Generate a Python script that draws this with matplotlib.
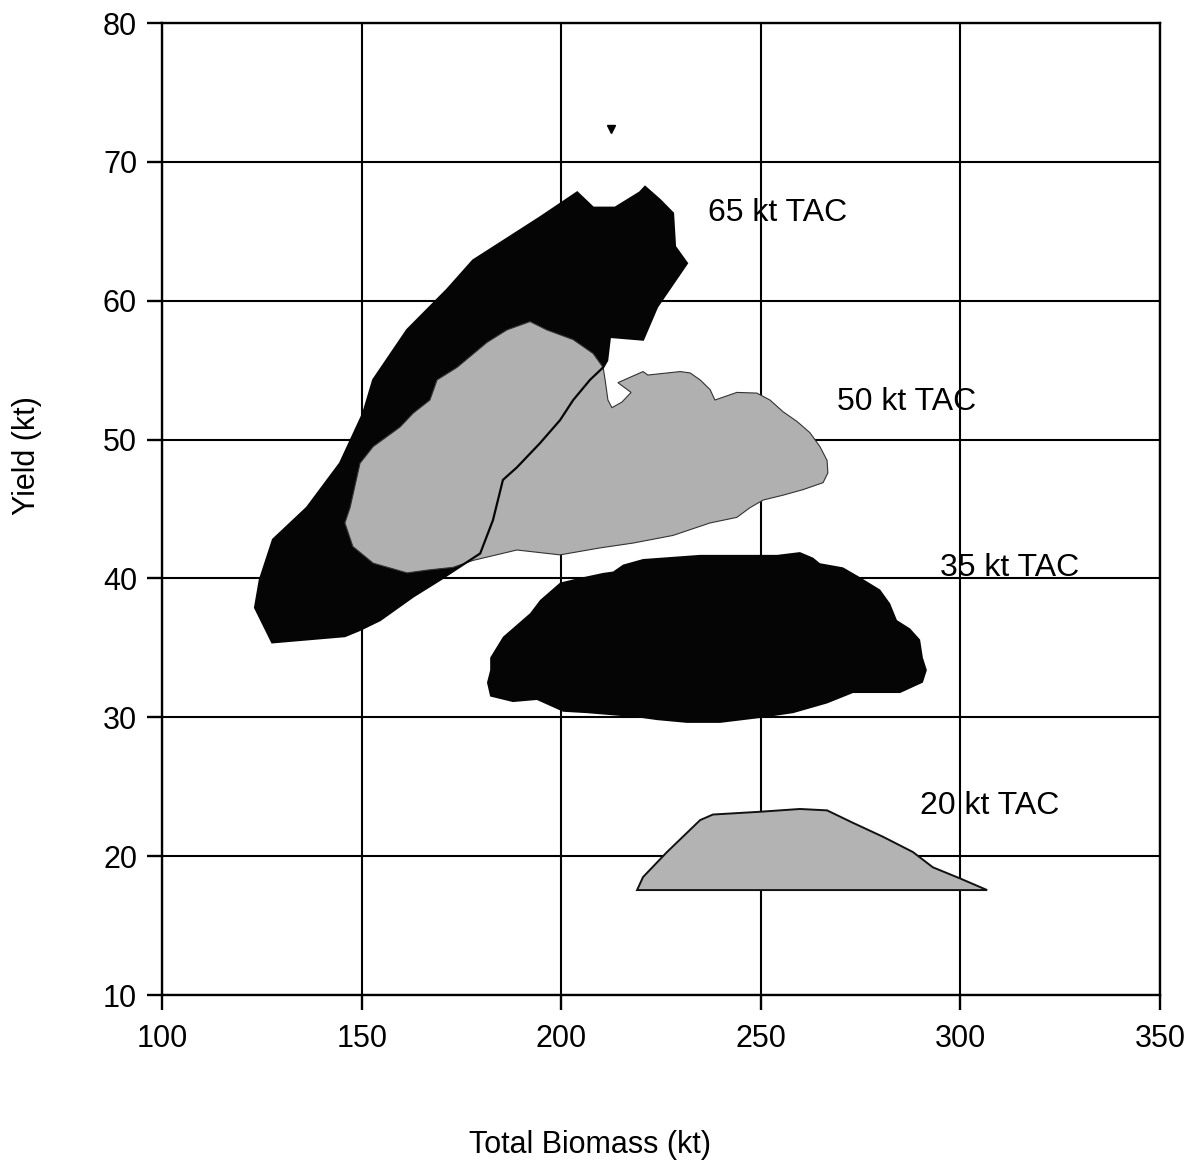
import numpy as np
import matplotlib.pyplot as plt

plt.rcParams['font.family'] = ['Liberation Sans', 'DejaVu Sans']

# Outline of each TAC region (total biomass kt, yield kt)
tac65_x = [204.0, 208.0, 213.5, 219.7, 221.0, 224.75, 228.0, 228.5, 231.5, 224.0,
           220.5, 212.2, 211.5, 210.5, 207.2, 203.0, 199.7, 194.7, 188.9, 185.4,
           182.9, 179.7, 174.1, 169.6, 162.9, 154.6, 149.6, 145.8, 127.6, 123.3,
           124.5, 127.8, 136.3, 144.6, 150.4, 152.9, 161.4, 171.4, 177.9, 194.7]
tac65_y = [67.8, 66.7, 66.7, 67.8, 68.2, 67.25, 66.3, 63.9, 62.7, 59.55,
           57.2, 57.4, 55.7, 55.2, 54.3, 52.85, 51.4, 49.75, 48.0, 47.1,
           44.2, 41.8, 40.75, 39.9, 38.7, 37.0, 36.3, 35.85, 35.4, 37.9,
           39.9, 42.8, 45.1, 48.3, 51.9, 54.3, 57.9, 60.8, 62.9, 66.0]

tac50_x = [192.2, 196.4, 203.0, 208.0, 210.5, 211.0, 211.7, 212.7, 215.2, 217.5,
           214.2, 220.5, 221.7, 229.8, 232.3, 234.8, 237.3, 238.5, 244.0, 249.0,
           252.3, 255.6, 259.1, 262.3, 264.8, 266.6, 266.8, 265.6, 260.6, 255.6,
           250.6, 247.3, 244.0, 237.3, 228.0, 218.0, 209.7, 199.7, 188.9, 177.9,
           172.9, 166.4, 161.4, 152.9, 147.8, 145.8, 147.1, 149.6, 152.9, 159.6,
           162.9, 167.1, 168.9, 173.9, 181.4, 186.4]
tac50_y = [58.5, 57.9, 57.2, 56.2, 55.2, 54.3, 52.85, 52.3, 52.7, 53.4,
           54.1, 54.9, 54.65, 54.9, 54.8, 54.3, 53.6, 52.85, 53.4, 53.35,
           52.85, 52.0, 51.3, 50.5, 49.5, 48.5, 47.6, 46.9, 46.4, 46.0,
           45.65, 45.1, 44.4, 44.0, 43.1, 42.55, 42.2, 41.7, 42.05, 41.3,
           40.8, 40.6, 40.4, 41.1, 42.3, 44.0, 45.1, 48.3, 49.5, 50.9,
           51.9, 52.85, 54.3, 55.2, 57.0, 57.9]

tac35_x = [199.7, 204.0, 210.5, 213.0, 215.5, 220.5, 234.8, 254.1, 259.8, 263.1,
           264.8, 270.6, 274.8, 279.9, 282.4, 284.1, 287.4, 289.9, 290.6, 291.6,
           290.6, 284.9, 273.1, 266.6, 258.1, 249.8, 239.8, 231.5, 224.0, 219.0,
           206.5, 200.5, 193.9, 187.9, 182.2, 181.4, 182.2, 182.2, 185.4, 192.2,
           194.7]
tac35_y = [39.7, 40.0, 40.4, 40.5, 41.0, 41.4, 41.7, 41.7, 41.9, 41.5,
           41.1, 40.8, 40.1, 39.2, 38.2, 37.0, 36.4, 35.6, 34.3, 33.4,
           32.5, 31.75, 31.75, 31.0, 30.3, 29.95, 29.6, 29.6, 29.8, 30.0,
           30.3, 30.4, 31.25, 31.1, 31.5, 32.5, 33.4, 34.3, 35.8, 37.5,
           38.45]

tac20_x = [219.0, 220.5, 226.5, 234.8, 238.0, 249.8, 259.8, 266.6, 273.1, 280.6,
           288.1, 293.1, 299.9, 306.7]
tac20_y = [17.56, 18.5, 20.3, 22.6, 23.0, 23.2, 23.4, 23.3, 22.4, 21.4,
           20.3, 19.2, 18.4, 17.56]

labels = ['65 kt TAC', '50 kt TAC', '35 kt TAC', '20 kt TAC']
label_x = [254.1, 286.6, 312.4, 307.4]
label_y = [66.3, 52.7, 40.75, 23.6]

# stray point above the 65 kt region
stray_x = [212.5]
stray_y = [72.4]

xticks = [100, 150, 200, 250, 300, 350]
yticks = [10, 20, 30, 40, 50, 60, 70, 80]

fig = plt.figure(figsize=(11.95, 11.69), dpi=100)
ax = fig.add_axes([0.1356, 0.1488, 0.8351, 0.8315])

ax.fill(tac65_x, tac65_y, color='#050505', zorder=2, lw=0)
ax.fill(tac50_x, tac50_y, facecolor='#b0b0b0', edgecolor='#333333', lw=0.8, zorder=3)
ax.fill(tac65_x, tac65_y, facecolor='none', edgecolor='#050505', lw=1.6, zorder=4)
ax.fill(tac35_x, tac35_y, color='#050505', zorder=2, lw=0)
ax.fill(tac20_x, tac20_y, facecolor='#b3b3b3', edgecolor='#111111', lw=1.4, zorder=3)
ax.plot(stray_x, stray_y, marker='v', color='black', markersize=6, ls='none', zorder=4)

for txt, x, y in zip(labels, label_x, label_y):
    ax.text(x, y, txt, fontsize=23, ha='center', va='center', zorder=5)

ax.set_xlim(100, 350)
ax.set_ylim(10, 80)
ax.set_xticks(xticks)
ax.set_yticks(yticks)
ax.grid(True, color='black', lw=1.5, zorder=1)
ax.set_axisbelow(True)
for s in ax.spines.values():
    s.set_linewidth(1.7)
ax.tick_params(axis='both', direction='out', length=11, width=1.7, labelsize=22)
ax.tick_params(axis='x', pad=10)
ax.tick_params(axis='y', pad=7)

fig.text(590 / 1195, 1 - 1145 / 1169, 'Total Biomass (kt)', fontsize=22,
         ha='center', va='center')
fig.text(27 / 1195, 1 - 456 / 1169, 'Yield (kt)', fontsize=22, rotation=90,
         ha='center', va='center')

fig.savefig('out.png', dpi=100)
